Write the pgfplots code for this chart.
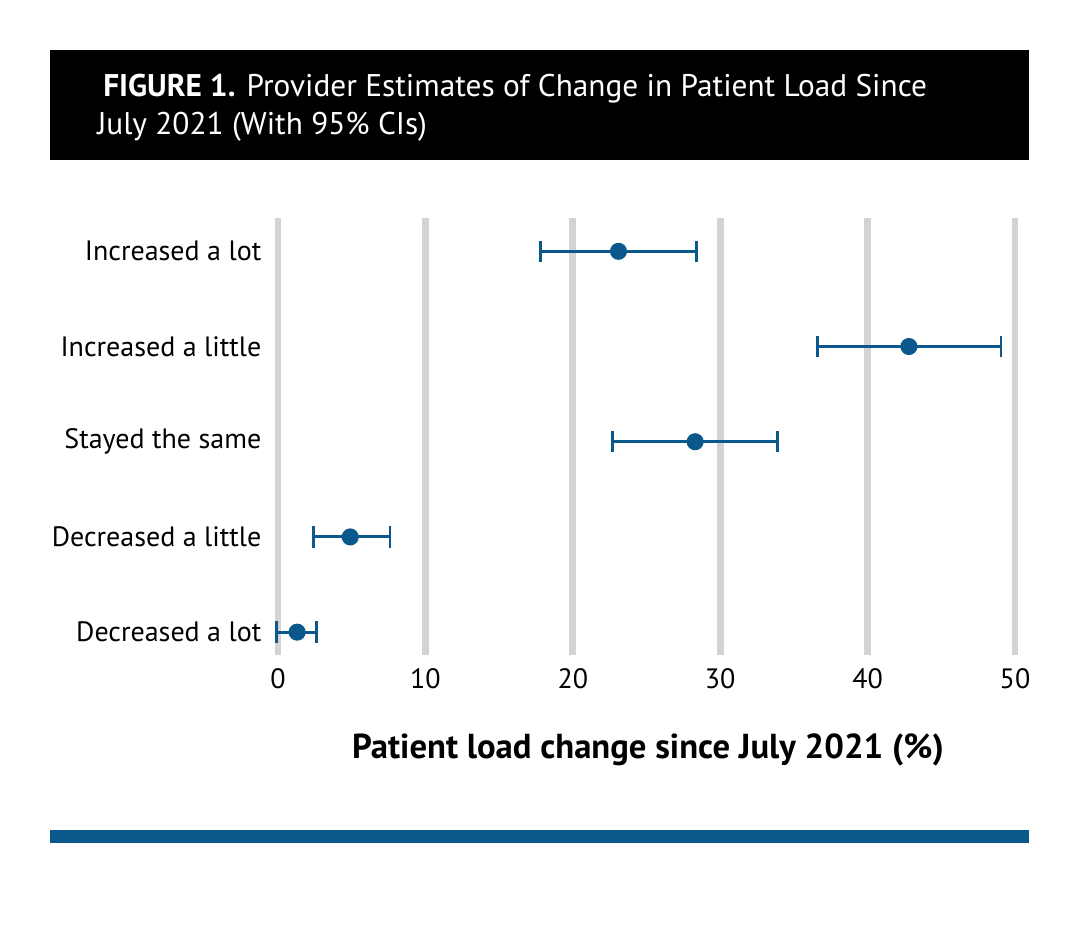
\documentclass[border=0pt]{standalone}
\usepackage{fontspec}
\setmainfont{PT Sans}
\usepackage{pgfplots}
\pgfplotsset{compat=1.18}
\definecolor{dotblue}{RGB}{10,88,140}
\definecolor{gridgray}{RGB}{211,211,213}

% data: y position, estimate, lower and upper distance to CI
\pgfplotstableread{
y   est   lo    hi
4   23.1  5.3   5.3
3   42.8  6.2   6.25
2   28.3  5.6   5.6
1   4.9   2.5   2.7
0   1.3   1.4   1.3
}\estimates

\begin{document}
\begin{tikzpicture}
\begin{scope}[x=0.75pt,y=0.75pt]
\path[use as bounding box] (0,0) rectangle (1079,950);
\fill[black] (50,790) rectangle (1029,900);
\node[anchor=base west,text=white,font=\fontsize{23.5}{27}\selectfont,inner sep=0] at (103,853)
  {\textbf{FIGURE 1.} Provider Estimates of Change in Patient Load Since};
\node[anchor=base west,text=white,font=\fontsize{23.5}{27}\selectfont,inner sep=0] at (97,815)
  {July 2021 (With 95\% CIs)};
\fill[dotblue] (50,107) rectangle (1029,120);
\node[font=\bfseries\fontsize{26}{30}\selectfont] at (648,200)
  {Patient load change since July 2021 (\%)};
\end{scope}
\begin{axis}[
  at={(208.5pt,221.25pt)}, anchor=south west,
  scale only axis,
  width=552.75pt, height=327.75pt,
  xmin=0, xmax=50, ymin=-0.24, ymax=4.35,
  axis line style={draw=none},
  tick style={draw=none},
  xtick={0,10,...,50},
  ytick={0,1,2,3,4},
  yticklabels={Decreased a lot,Decreased a little,Stayed the same,Increased a little,Increased a lot},
  xmajorgrids,
  major grid style={gridgray,line width=5pt},
  tick label style={font=\fontsize{21}{25}\selectfont},
  yticklabel style={xshift=-9pt},
  xticklabel style={yshift=-7pt},
  /pgf/number format/assume math mode=true,
  clip=false,
]
\addplot[dotblue, line width=2.2pt, only marks, mark=*, mark size=5.3pt,
  error bars/.cd, x dir=both, x explicit,
  error bar style={line width=2.2pt, dotblue},
  error mark options={rotate=90, mark size=8pt, line width=2.2pt, dotblue}]
  table[x=est, y=y, x error minus=lo, x error plus=hi] {\estimates};
\end{axis}
\end{tikzpicture}
\end{document}
